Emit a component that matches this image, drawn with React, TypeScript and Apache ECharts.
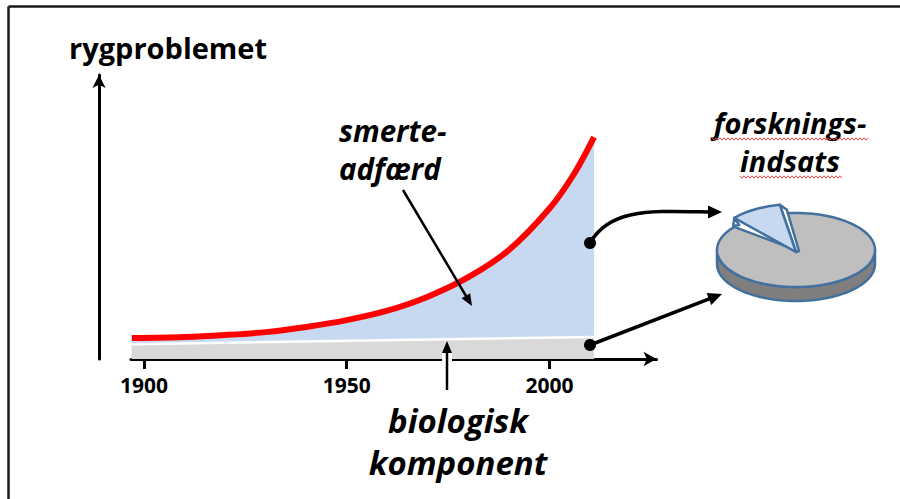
import React, { useEffect, useRef } from "react";
import * as echarts from "echarts";

// ---- data ----
const years = [1897, 1910, 1920, 1930, 1940, 1950, 1960, 1970, 1980, 1990, 2000, 2006, 2011];
const painBehaviour = [7.3, 7.7, 8.4, 9.4, 11.2, 13.6, 16.9, 21.8, 28.6, 38.1, 52.6, 64.6, 77.6];
const bioYears = [1897, 2011];
const biological = [5.2, 7.7];
const tickYears = [1900, 1950, 2000];
const researchShares = [
  { name: "biologisk komponent", value: 89 },
  { name: "smerteadfærd", value: 11 },
];
const yAxisTitle = "rygproblemet";
const painLabel = ["smerte-", "adfærd"];
const bioLabel = ["biologisk", "komponent"];
const researchLabel = ["forsknings-", "indsats"];

const FONT = '"Open Sans", "Noto Sans", sans-serif';

function arrowHead(x1: number, y1: number, x2: number, y2: number, len: number, half: number) {
  const dx = x2 - x1, dy = y2 - y1;
  const d = Math.hypot(dx, dy);
  const ux = dx / d, uy = dy / d;
  const bx = x2 - ux * len, by = y2 - uy * len;
  return [
    [x2, y2],
    [bx - uy * half, by + ux * half],
    [bx + uy * half, by - ux * half],
  ];
}

function arrow(x1: number, y1: number, x2: number, y2: number, lw: number, len: number, half: number, z: number) {
  const dx = x2 - x1, dy = y2 - y1;
  const d = Math.hypot(dx, dy);
  const ex = x2 - (dx / d) * (len - 1), ey = y2 - (dy / d) * (len - 1);
  return [
    { type: "line", z, shape: { x1, y1, x2: ex, y2: ey }, style: { stroke: "#000", lineWidth: lw } },
    { type: "polygon", z, shape: { points: arrowHead(x1, y1, x2, y2, len, half) }, style: { fill: "#000" } },
  ];
}

function wavy(x1: number, x2: number, y: number, z: number) {
  const pts: number[][] = [];
  let up = true;
  for (let x = x1; x <= x2; x += 2) {
    pts.push([x, y + (up ? -1.2 : 1.2)]);
    up = !up;
  }
  return { type: "polyline", z, shape: { points: pts }, style: { stroke: "#e5484d", lineWidth: 1, fill: "none" } };
}

function buildPie(z: number) {
  const cx = 796, cy = 250, rx = 79, ry = 37, depth = 14;
  const total = researchShares.reduce((s, d) => s + d.value, 0);
  const wedgeSpan = (researchShares[1].value / total) * 360;
  const a0 = 101.8; // wedge start angle (deg, counter-clockwise)
  const a1 = a0 + wedgeSpan;
  const pt = (deg: number, ox = 0, oy = 0) => {
    const r = (deg * Math.PI) / 180;
    return [cx + ox + rx * Math.cos(r), cy + oy - ry * Math.sin(r)];
  };
  const arc = (from: number, to: number, ox = 0, oy = 0) => {
    const pts: number[][] = [];
    const n = Math.max(4, Math.ceil(Math.abs(to - from) / 3));
    for (let i = 0; i <= n; i++) pts.push(pt(from + ((to - from) * i) / n, ox, oy));
    return pts;
  };
  const stroke = "#41719c";
  const lw = 2.5;
  const st = (fill: string) => ({ fill, stroke, lineWidth: lw, lineJoin: "round" });
  const els: any[] = [];
  // side of big piece
  const side = [...arc(180, 360), ...arc(360, 180, 0, depth)];
  els.push({ type: "polygon", z, shape: { points: side }, style: st("#7f7f7f") });
  // top face of big piece (with wedge cut out)
  const top = [[cx, cy], ...arc(a1, a0 + 360)];
  els.push({ type: "polygon", z, z2: 1, shape: { points: top }, style: st("#bfbfbf") });
  // exploded wedge (lifted)
  const oy = -9;
  const tip = [cx, cy + 2];
  const pA = pt(a0, 0, oy); // right outer corner
  const pB = pt(a1, 0, oy); // left outer corner
  // visible side walls
  els.push({ type: "polygon", z, z2: 2, shape: { points: [tip, pA, [pA[0] + 7, pA[1] + 5], [tip[0] + 3, tip[1] - 1]] }, style: st("#ffffff") });
  els.push({ type: "polygon", z, z2: 2, shape: { points: [pB, [pB[0] - 1, pB[1] + 8], [pB[0] + 5, pB[1] + 7]] }, style: st("#ffffff") });
  const wedgeTop = [tip, ...arc(a0, a1, 0, oy)];
  els.push({ type: "polygon", z, z2: 3, shape: { points: wedgeTop }, style: st("#c6d9f0") });
  return els;
}

export default function App() {
  const ref = useRef<HTMLDivElement>(null);
  useEffect(() => {
    if (!ref.current) return;
    const chart = echarts.init(ref.current, undefined, { renderer: "svg" });
    const Z = 20;
    const textStyle = (size: number, italic: boolean) =>
      `${italic ? "italic " : ""}bold ${size}px ${FONT}`;
    const graphic: any[] = [
      // frame
      { type: "line", z: Z, shape: { x1: 8.5, y1: 6.5, x2: 900, y2: 6.5 }, style: { stroke: "#1a1a1a", lineWidth: 2.5 } },
      { type: "line", z: Z, shape: { x1: 8.5, y1: 6.5, x2: 8.5, y2: 499 }, style: { stroke: "#1a1a1a", lineWidth: 2.5 } },
      // y title
      { type: "text", z: Z, x: 69, y: 47, style: { text: yAxisTitle, font: textStyle(29, false), fill: "#000", align: "left", verticalAlign: "middle" } },
      // smerte-adfærd
      { type: "text", z: Z, x: 339, y: 130, style: { text: painLabel[0], font: textStyle(29.5, true), fill: "#000", align: "left", verticalAlign: "middle" } },
      { type: "text", z: Z, x: 339, y: 168, style: { text: painLabel[1], font: textStyle(29.5, true), fill: "#000", align: "left", verticalAlign: "middle" } },
      ...arrow(403, 190, 472, 306, 2.5, 12, 5, Z),
      // biologisk komponent
      { type: "text", z: Z, x: 458, y: 420, style: { text: bioLabel[0], font: textStyle(33, true), fill: "#000", align: "center", verticalAlign: "middle" } },
      { type: "text", z: Z, x: 458, y: 462, style: { text: bioLabel[1], font: textStyle(33, true), fill: "#000", align: "center", verticalAlign: "middle" } },
      { type: "line", z: Z, shape: { x1: 447, y1: 352, x2: 447, y2: 366 }, style: { stroke: "#fff", lineWidth: 10 } },
      ...arrow(447, 390, 447, 341, 2.5, 12, 5, Z),
      // forskningsindsats
      { type: "text", z: Z, x: 790, y: 122, style: { text: researchLabel[0], font: textStyle(29, true), fill: "#000", align: "center", verticalAlign: "middle" } },
      { type: "text", z: Z, x: 790, y: 160, style: { text: researchLabel[1], font: textStyle(29, true), fill: "#000", align: "center", verticalAlign: "middle" } },
      wavy(712, 868, 139, Z),
      wavy(740, 842, 177, Z),
      // connectors
      { type: "circle", z: Z, shape: { cx: 590, cy: 243, r: 6 }, style: { fill: "#000" } },
      { type: "circle", z: Z, shape: { cx: 590, cy: 345, r: 6 }, style: { fill: "#000" } },
      { type: "bezierCurve", z: Z, shape: { x1: 590, y1: 243, cpx1: 610, cpy1: 208, cpx2: 650, cpy2: 211, x2: 709, y2: 212 }, style: { stroke: "#000", lineWidth: 3.5, fill: "none" } },
      { type: "polygon", z: Z, shape: { points: arrowHead(700, 212, 722, 212, 14, 6.5) }, style: { fill: "#000" } },
      ...arrow(590, 345, 722, 294, 3.5, 14, 6.5, Z),
      // pie
      ...buildPie(Z),
    ];

    chart.setOption({
      animation: false,
      grid: { left: 131, right: 243.5, top: 75, bottom: 140, containLabel: false },
      xAxis: {
        type: "value",
        min: 1896.8,
        max: 2026.4,
        splitLine: { show: false },
        axisLine: {
          show: true,
          onZero: false,
          symbol: ["none", "arrow"],
          symbolSize: [11, 13],
          lineStyle: { color: "#000", width: 3 },
        },
        axisTick: {
          show: true,
          customValues: tickYears,
          length: 10,
          lineStyle: { color: "#000", width: 3 },
        },
        axisLabel: {
          show: true,
          customValues: tickYears,
          formatter: (v: number) => String(Math.round(v)),
          margin: 15,
          color: "#000",
          fontWeight: "bold",
          fontSize: 21,
          fontFamily: FONT,
        },
      },
      yAxis: {
        type: "value",
        min: 0,
        max: 99.3,
        offset: 32,
        splitLine: { show: false },
        axisTick: { show: false },
        axisLabel: { show: false },
        axisLine: {
          show: true,
          onZero: false,
          symbol: ["none", "arrow"],
          symbolSize: [10, 13],
          lineStyle: { color: "#000", width: 3 },
        },
      },
      series: [
        {
          name: "smerteadfærd-fyld",
          type: "line",
          data: years.map((y, i) => [y, painBehaviour[i]]),
          smooth: 0.3,
          showSymbol: false,
          lineStyle: { width: 0 },
          areaStyle: { color: "#c6d9f0", opacity: 1 },
          z: 1,
        },
        {
          name: "biologisk komponent",
          type: "line",
          data: bioYears.map((y, i) => [y, biological[i]]),
          showSymbol: false,
          lineStyle: { color: "#ffffff", width: 2.5 },
          areaStyle: { color: "#d9d9d9", opacity: 1 },
          z: 2,
        },
        {
          name: "smerteadfærd",
          type: "line",
          data: years.map((y, i) => [y, painBehaviour[i]]),
          smooth: 0.3,
          showSymbol: false,
          lineStyle: { color: "#ff0000", width: 6, cap: "butt" },
          z: 3,
        },
      ],
      graphic,
    });
    return () => chart.dispose();
  }, []);
  return (
    <div
      ref={ref}
      style={{ position: "fixed", left: 0, top: 0, width: 900, height: 499, background: "#fff" }}
    />
  );
}
